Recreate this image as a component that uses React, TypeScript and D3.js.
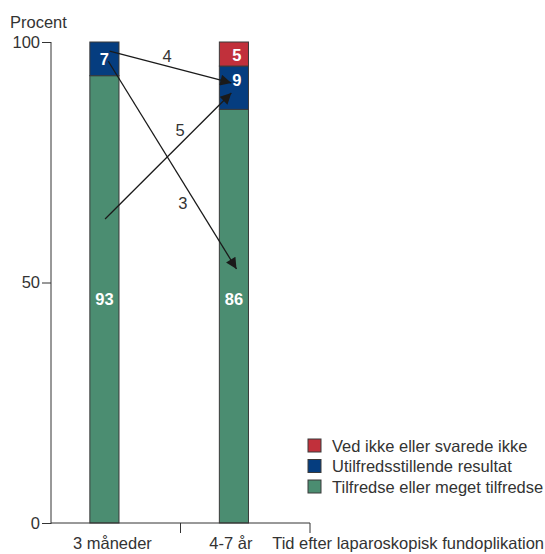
import React, { useEffect, useRef } from 'react';
import * as d3 from 'd3';

const categories = ['3 måneder', '4-7 år'];
const series = ['Tilfredse eller meget tilfredse', 'Utilfredsstillende resultat', 'Ved ikke eller svarede ikke'];
const satisfied = [93, 86];
const unsatisfied = [7, 9];
const unknown = [0, 5];
const yTicks = [0, 50, 100];
// where each value label sits (in percent)
const labelAt = [
  [46.5, 46.5],
  [96.5, 92],
  [0, 97.3],
];
// flows between the two time points (percent at start / end, label position)
const flows = [
  { from: 98.1, to: 91.5, label: '4', lx: 0.396, ly: 97.0, sx: 0.04, tx: -0.02 },
  { from: 96.0, to: 52.8, label: '3', lx: 0.519, ly: 66.5, sx: 0.03, tx: 0.02 },
  { from: 63.2, to: 89.4, label: '5', lx: 0.496, ly: 81.7, sx: 0.005, tx: -0.02 },
];

const colors = ['#4b8d71', '#053d7f', '#c1303b'];
const FS = 16.5;

const App = () => {
  const svgRef = useRef(null);

  useEffect(() => {
    const svg = d3.select(svgRef.current);
    svg.selectAll('*').remove();

    const x = d3.scaleBand().domain(categories).range([51, 310]);
    const y = d3.scaleLinear().domain([0, 100]).range([523, 42]);
    const bw = x.bandwidth();
    const barX = (c) => x(c) + bw * 0.3;
    const barW = bw * 0.225;
    const cx = (c) => barX(c) + barW / 2;

    const defs = svg.append('defs');
    defs.append('marker')
      .attr('id', 'head')
      .attr('viewBox', '0 0 10 10')
      .attr('refX', 10)
      .attr('refY', 5)
      .attr('markerWidth', 13)
      .attr('markerHeight', 11)
      .attr('markerUnits', 'userSpaceOnUse')
      .attr('orient', 'auto')
      .append('path')
      .attr('d', 'M0,0 L10,5 L0,10 z')
      .attr('fill', '#1a1a1a');

    const stackData = categories.map((c, i) => ({ cat: c, s0: satisfied[i], s1: unsatisfied[i], s2: unknown[i] }));
    const stacked = d3.stack().keys(['s0', 's1', 's2'])(stackData);

    // bars
    stacked.forEach((layer, k) => {
      svg.append('g').selectAll('rect')
        .data(layer.filter(d => d[1] > d[0]))
        .enter().append('rect')
        .attr('x', d => barX(d.data.cat))
        .attr('y', d => y(d[1]))
        .attr('width', barW)
        .attr('height', d => y(d[0]) - y(d[1]))
        .attr('fill', colors[k])
        .attr('stroke', '#3a3a3a')
        .attr('stroke-width', 1);
    });

    // value labels
    const vals = [satisfied, unsatisfied, unknown];
    vals.forEach((arr, k) => {
      arr.forEach((v, i) => {
        if (!v) return;
        svg.append('text')
          .attr('x', cx(categories[i]) + (i === 1 && k > 0 ? 3 : 0))
          .attr('y', y(labelAt[k][i]))
          .attr('dy', '0.36em')
          .attr('text-anchor', 'middle')
          .attr('fill', '#fff')
          .attr('font-weight', 'bold')
          .attr('font-size', FS)
          .text(v);
      });
    });

    // flow arrows
    flows.forEach(f => {
      const x0 = cx(categories[0]) + bw * f.sx;
      const x1 = barX(categories[1]) + barW / 2 + bw * f.tx;
      svg.append('line')
        .attr('x1', x0).attr('y1', y(f.from))
        .attr('x2', x1).attr('y2', y(f.to))
        .attr('stroke', '#1a1a1a')
        .attr('stroke-width', 1.3)
        .attr('marker-end', 'url(#head)');
      svg.append('text')
        .attr('x', x(categories[0]) + bw * (0.5 + f.lx))
        .attr('y', y(f.ly))
        .attr('dy', '0.36em')
        .attr('text-anchor', 'middle')
        .attr('fill', '#333')
        .attr('font-size', FS)
        .text(f.label);
    });

    // y axis
    const yAxis = svg.append('g')
      .attr('transform', 'translate(51,0)')
      .call(d3.axisLeft(y).tickValues(yTicks).tickSize(9).tickPadding(2));
    yAxis.select('.domain').attr('d', `M0,${y(100)}V${y(0) + 1}`).attr('stroke', '#333');
    yAxis.selectAll('line').attr('stroke', '#333');
    yAxis.selectAll('text').attr('font-size', FS).attr('fill', '#333').attr('font-family', 'Liberation Sans, Arial, sans-serif');

    // x axis
    const xAxis = svg.append('g').attr('transform', `translate(0,${y(0)})`);
    xAxis.append('line')
      .attr('x1', 51).attr('x2', 310)
      .attr('stroke', '#333');
    xAxis.selectAll('line.tick')
      .data(categories)
      .enter().append('line')
      .attr('class', 'tick')
      .attr('x1', d => x(d) + bw).attr('x2', d => x(d) + bw)
      .attr('y1', 0).attr('y2', 10)
      .attr('stroke', '#333');
    xAxis.selectAll('text')
      .data(categories)
      .enter().append('text')
      .attr('x', (d, i) => cx(d) + (i === 0 ? 8 : -3))
      .attr('y', 26)
      .attr('text-anchor', 'middle')
      .attr('fill', '#333')
      .attr('font-size', FS)
      .text(d => d);
    xAxis.append('text')
      .attr('x', 544)
      .attr('y', 26)
      .attr('text-anchor', 'end')
      .attr('fill', '#333')
      .attr('font-size', FS)
      .text('Tid efter laparoskopisk fundoplikation');

    svg.append('text')
      .attr('x', 10)
      .attr('y', 28)
      .attr('fill', '#333')
      .attr('font-size', FS)
      .text('Procent');

    // legend
    const legendItems = series.map((s, i) => ({ s, c: colors[i] })).reverse();
    const lg = svg.append('g').attr('transform', 'translate(308,439)');
    legendItems.forEach((d, i) => {
      lg.append('rect')
        .attr('x', 0).attr('y', i * 20.5)
        .attr('width', 13).attr('height', 13)
        .attr('fill', d.c)
        .attr('stroke', '#3a3a3a');
      lg.append('text')
        .attr('x', 24).attr('y', i * 20.5 + 7)
        .attr('dy', '0.36em')
        .attr('fill', '#333')
        .attr('font-size', FS)
        .text(d.s);
    });
  }, []);

  return (
    <svg
      ref={svgRef}
      width={545}
      height={554}
      style={{ position: 'absolute', left: 0, top: 0, fontFamily: 'Liberation Sans, Arial, sans-serif', background: '#fff' }}
    />
  );
};

export default App;
